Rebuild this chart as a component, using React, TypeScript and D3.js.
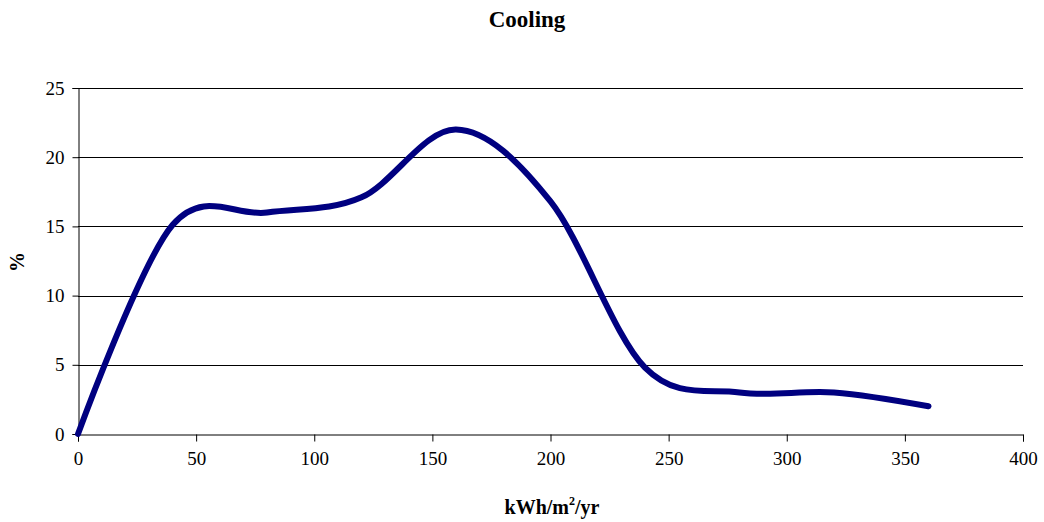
import React, { useEffect, useRef } from 'react';
import * as d3 from 'd3';

// readings, one every 40 kWh/m²/yr
const energy = [0, 40, 80, 120, 160, 200, 240, 280, 320, 360];
const share = [0, 15.1, 16.0, 17.1, 22.0, 16.8, 4.8, 3.0, 3.0, 2.0];
const xTicks = [0, 50, 100, 150, 200, 250, 300, 350, 400];
const yTicks = [0, 5, 10, 15, 20, 25];

const App = () => {
  const ref = useRef<SVGSVGElement | null>(null);

  useEffect(() => {
    const svg = d3.select(ref.current);
    svg.selectAll('*').remove();

    const font = '"Liberation Serif", "Times New Roman", serif';
    const x = d3.scaleLinear().domain([0, 400]).range([78, 1023]);
    const y = d3.scaleLinear().domain([0, 25]).range([434, 88]);

    // gridlines
    svg.append('g')
      .selectAll('line')
      .data(yTicks.filter(t => t > 0))
      .enter()
      .append('line')
      .attr('x1', x(0))
      .attr('x2', x(400))
      .attr('y1', d => Math.round(y(d)) + 0.5)
      .attr('y2', d => Math.round(y(d)) + 0.5)
      .attr('stroke', '#000')
      .attr('stroke-width', 1);

    const yAxis = svg.append('g')
      .attr('transform', `translate(${x(0) + 0.5},0)`)
      .call(d3.axisLeft(y).tickValues(yTicks).tickSize(6).tickPadding(8));
    const xAxis = svg.append('g')
      .attr('transform', `translate(0,${y(0) + 0.5})`)
      .call(d3.axisBottom(x).tickValues(xTicks).tickSize(7).tickPadding(10));

    [yAxis, xAxis].forEach(a => {
      a.select('.domain').attr('stroke', '#000');
      a.selectAll('line').attr('stroke', '#000');
      a.selectAll('text')
        .style('font-family', font)
        .style('font-size', '19px')
        .attr('fill', '#000');
    });

    const pts = energy.map((e, i) => [e, share[i]] as [number, number]);
    const line = d3.line<[number, number]>()
      .x(d => x(d[0]))
      .y(d => y(d[1]))
      .curve(d3.curveCatmullRom.alpha(0));

    svg.append('path')
      .datum(pts)
      .attr('d', line)
      .attr('fill', 'none')
      .attr('stroke', '#000080')
      .attr('stroke-width', 6)
      .attr('stroke-linecap', 'round')
      .attr('stroke-linejoin', 'round');

    svg.append('text')
      .attr('x', 527)
      .attr('y', 27)
      .attr('text-anchor', 'middle')
      .style('font-family', font)
      .style('font-size', '23px')
      .style('font-weight', 'bold')
      .text('Cooling');

    svg.append('text')
      .attr('transform', 'translate(24,262) rotate(-90)')
      .attr('text-anchor', 'middle')
      .style('font-family', font)
      .style('font-size', '20px')
      .style('font-weight', 'bold')
      .text('%');

    const xl = svg.append('text')
      .attr('x', 552)
      .attr('y', 514)
      .attr('text-anchor', 'middle')
      .style('font-family', font)
      .style('font-size', '20px')
      .style('font-weight', 'bold');
    xl.append('tspan').text('kWh/m');
    xl.append('tspan').attr('dy', -9).style('font-size', '12px').text('2');
    xl.append('tspan').attr('dy', 9).text('/yr');
  }, []);

  return (
    <svg ref={ref} width={1044} height={522}
      style={{ position: 'absolute', left: 0, top: 0, background: '#fff' }} />
  );
};

export default App;
